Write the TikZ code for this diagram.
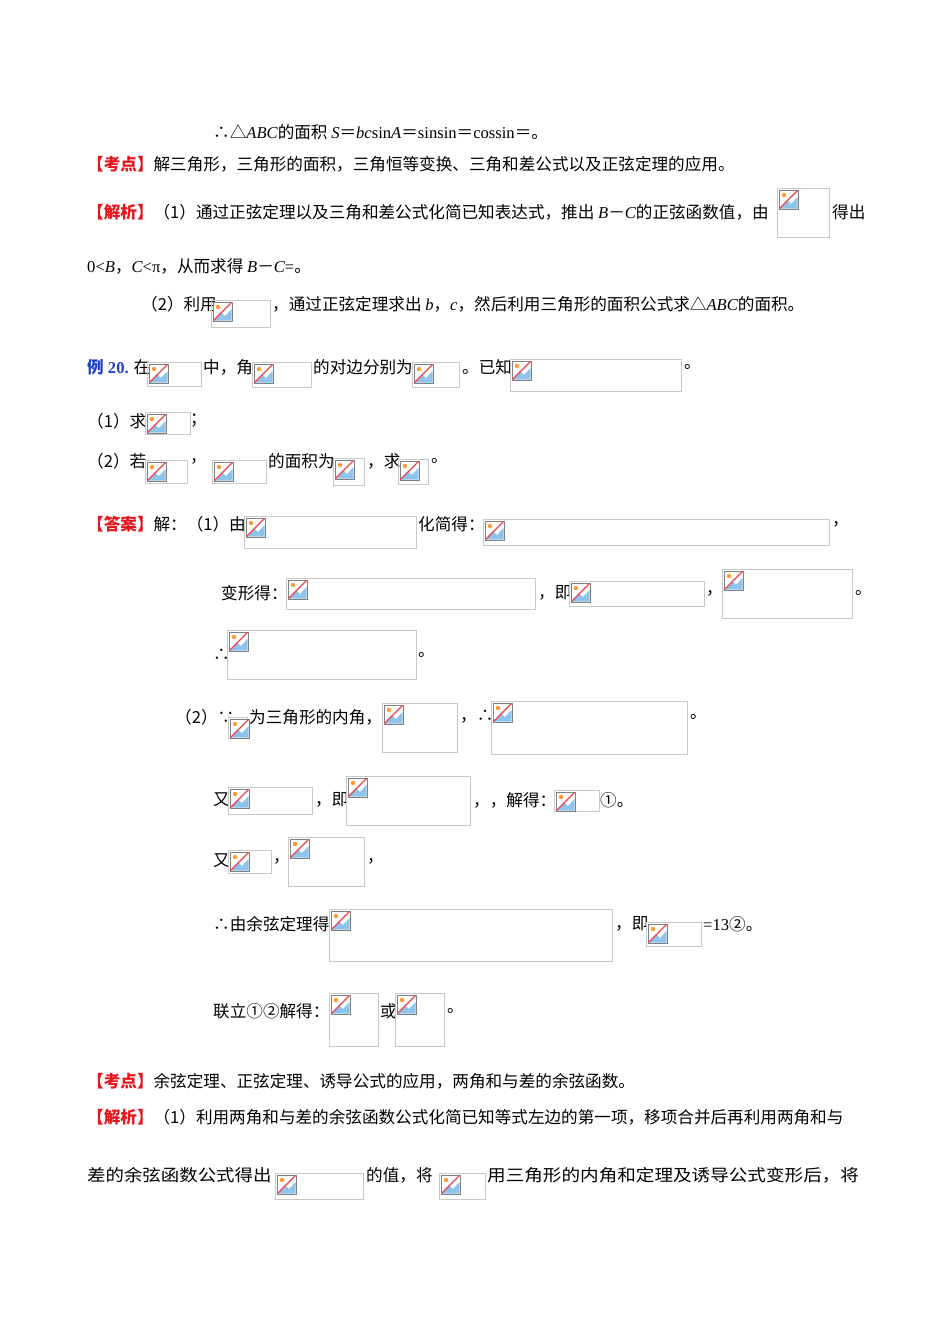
\documentclass[tikz,border=0pt]{standalone}
\usepackage{fontspec}
\setmainfont{Liberation Serif}
\newfontfamily\cjk{Noto Sans CJK SC}
\usepackage{graphicx}
\definecolor{kred}{HTML}{E8141B}
\definecolor{kblue}{HTML}{1F3FD0}
\definecolor{phgray}{HTML}{C8C8C8}
\definecolor{phblue}{HTML}{8EC3EC}
\newcommand\ph[4]{%
  \draw[phgray,line width=0.8pt] (#1,#2) rectangle (#3,#4);
  \begin{scope}[shift={(#1+2,#2+2)}]
    \draw[gray,fill=white,line width=0.6pt] (0,0) rectangle (19,19);
    \fill[phblue] (1,18.5) -- (8,10) -- (12,14) -- (18.5,7) -- (18.5,18.5) -- cycle;
    \fill[orange!80] (5,5) circle (2.2);
    \draw[kred!80,line width=1.2pt] (0.5,18.5) -- (18.5,0.5);
  \end{scope}}
\newcommand\Lt[1]{{\rmfamily #1}}
\newcommand\Li[1]{{\rmfamily\itshape #1}}
\tikzset{t/.style={anchor=west,inner sep=0pt,font=\cjk\fontsize{16.6}{19}\selectfont}}
\newcommand\kd[1]{\textcolor{kred}{\bfseries #1}}
\begin{document}
\begin{tikzpicture}[x=1pt,y=-1pt]
\useasboundingbox[fill=white] (0,0) rectangle (950,1344);
\node[t] at (213,132) {∴△\Li{ABC}的面积 \Li{S}＝\Li{bc}\Lt{sin}\Li{A}＝\Lt{sinsin}＝\Lt{cossin}＝。};
\node[t] at (87,164) {\kd{【考点】}解三角形，三角形的面积，三角恒等变换、三角和差公式以及正弦定理的应用。};
\node[t] at (87,212) {\kd{【解析】}（1）通过正弦定理以及三角和差公式化简已知表达式，推出 \Li{B}－\Li{C}的正弦函数值，由};
\ph{777}{188}{829}{237}
\node[t] at (832,212) {得出};
\node[t] at (87,266) {\Lt{0<}\Li{B}，\Li{C}\Lt{<π}，从而求得 \Li{B}－\Li{C}\Lt{=}。};
\node[t] at (141,304) {（2）利用};
\ph{211}{300}{270}{327}
\node[t] at (272,304) {，通过正弦定理求出 \Li{b}，\Li{c}，然后利用三角形的面积公式求△\Li{ABC}的面积。};
\node[t] at (87,367) {\textcolor{kblue}{\bfseries 例{\rmfamily\ 20.}} 在};
\ph{147}{362}{201}{386}
\node[t] at (203,367) {中，角};
\ph{252}{362}{311}{387}
\node[t] at (313,367) {的对边分别为};
\ph{412}{362}{459}{387}
\node[t] at (462,367) {。已知};
\ph{510}{359}{681}{391}
\node[t] at (684,367) {。};
\node[t] at (87,421) {（1）求};
\ph{145}{412}{190}{434}
\node[t] at (190,421) {；};
\node[t] at (87,461) {（2）若};
\ph{145}{460}{187}{483}
\node[t] at (190,461) {，};
\ph{212}{460}{266}{483}
\node[t] at (268,461) {的面积为};
\ph{333}{458}{364}{485}
\node[t] at (367,461) {，求};
\ph{398}{459}{428}{484}
\node[t] at (431,461) {。};
\node[t] at (87,524) {\kd{【答案】}解：（1）由};
\ph{244}{516}{416}{548}
\node[t] at (418,524) {化简得：};
\ph{483}{519}{829}{545}
\node[t] at (832,524) {，};
\node[t] at (221,593) {变形得：};
\ph{286}{578}{535}{609}
\node[t] at (538,593) {，即};
\ph{569}{581}{704}{606}
\node[t] at (706,593) {，};
\ph{722}{569}{852}{618}
\node[t] at (855,593) {。};
\node[t] at (213,655) {∴};
\ph{227}{630}{416}{679}
\node[t] at (418,655) {。};
\node[t] at (175,717) {（2）∵};
\ph{228}{717}{247}{738}
\node[t] at (249,717) {为三角形的内角，};
\ph{382}{703}{457}{752}
\node[t] at (460,717) {，∴};
\ph{491}{701}{687}{754}
\node[t] at (690,717) {。};
\node[t] at (213,800) {又};
\ph{228}{787}{312}{814}
\node[t] at (315,800) {，即};
\ph{346}{776}{470}{825}
\node[t] at (473,800) {，，解得：};
\ph{554}{790}{599}{811}
\node[t] at (600,800) {①。};
\node[t] at (213,861) {又};
\ph{228}{850}{271}{873}
\node[t] at (273,861) {，};
\ph{288}{837}{364}{886}
\node[t] at (367,861) {，};
\node[t] at (213,924) {∴由余弦定理得};
\ph{329}{909}{612}{961}
\node[t] at (615,924) {，即};
\ph{646}{922}{701}{946}
\node[t] at (703,924) {\Lt{=13}②。};
\node[t] at (213,1011) {联立①②解得：};
\ph{329}{993}{378}{1046}
\node[t] at (380,1011) {或};
\ph{395}{993}{444}{1046}
\node[t] at (447,1011) {。};
\node[t] at (87,1081) {\kd{【考点】}余弦定理、正弦定理、诱导公式的应用，两角和与差的余弦函数。};
\node[t] at (87,1117) {\kd{【解析】}（1）利用两角和与差的余弦函数公式化简已知等式左边的第一项，移项合并后再利用两角和与};
\node[t] at (87,1175) {\scalebox{1.11}[1]{差的余弦函数公式得出}};
\ph{275}{1173}{363}{1199}
\node[t] at (366,1175) {的值，将};
\ph{439}{1173}{485}{1199}
\node[t] at (487,1175) {\scalebox{1.12}[1]{用三角形的内角和定理及诱导公式变形后，将}};
\end{tikzpicture}
\end{document}
